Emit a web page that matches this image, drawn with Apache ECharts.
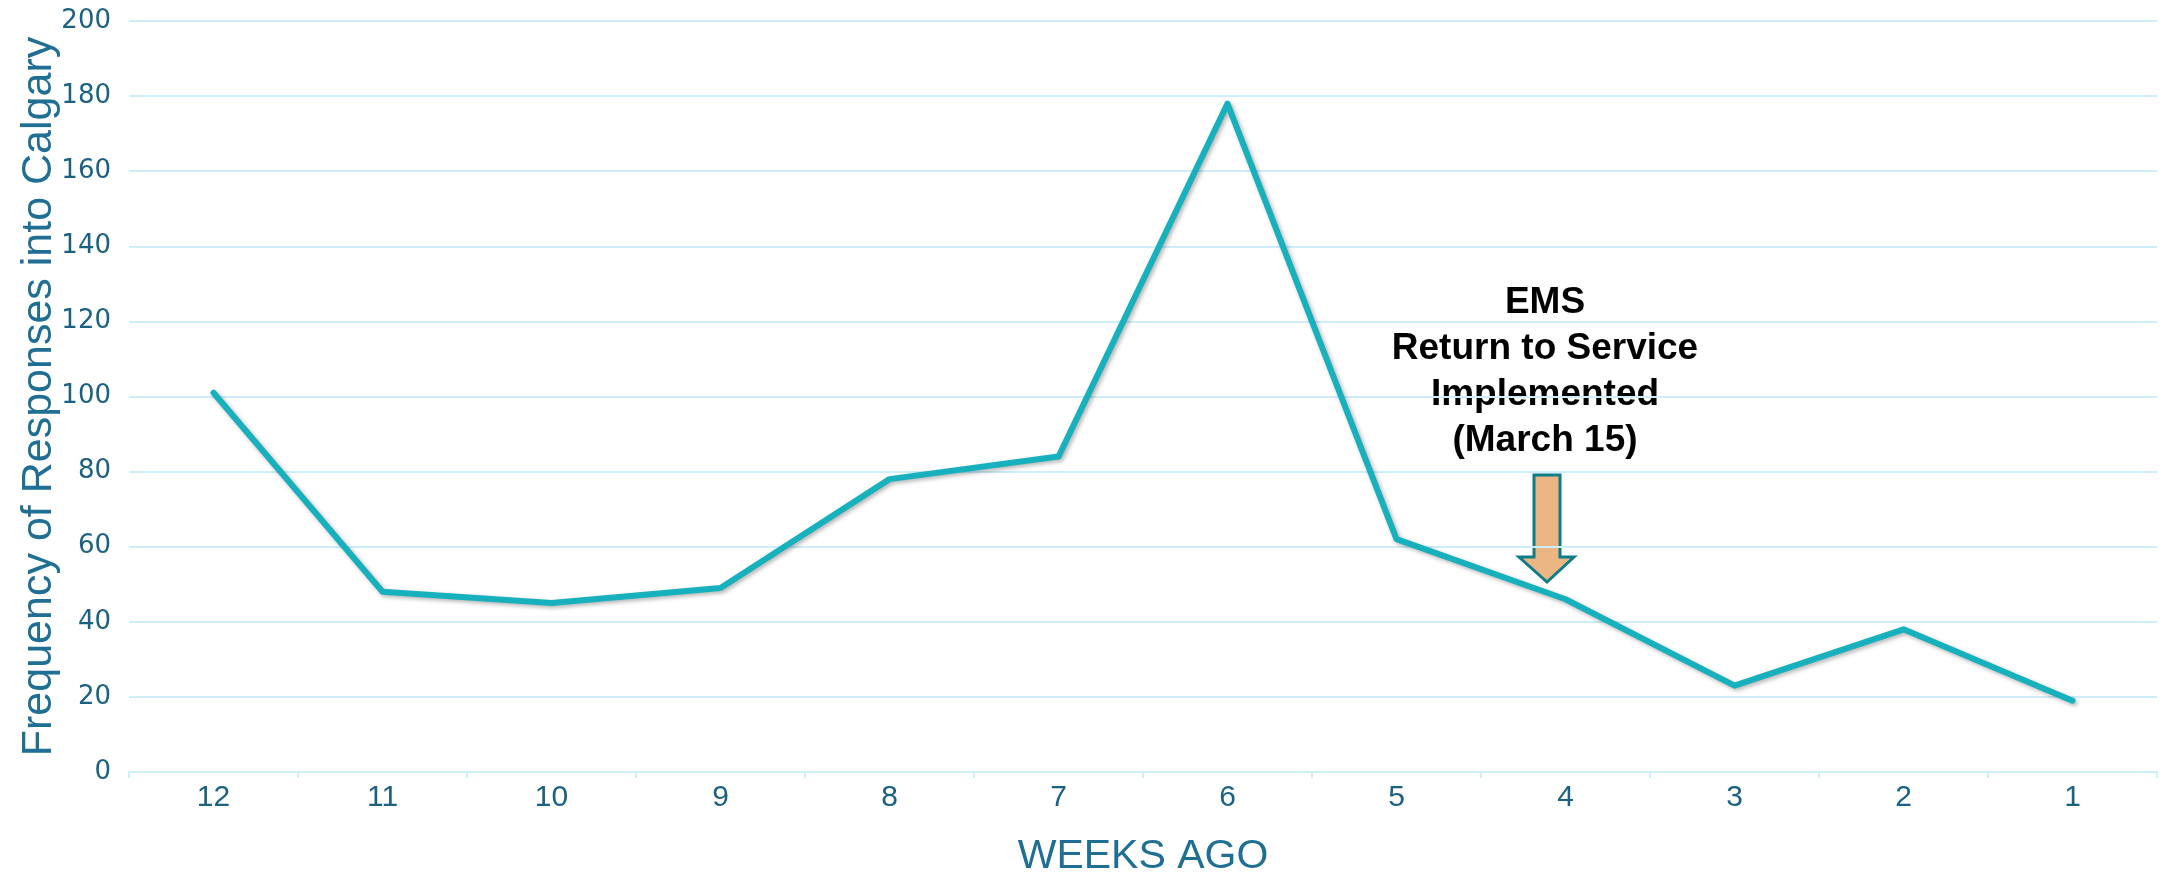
<!DOCTYPE html>
<html>
<head>
<meta charset="utf-8">
<script src="https://cdn.jsdelivr.net/npm/echarts@6/dist/echarts.min.js"></script>
<style>
html, body { margin: 0; padding: 0; background: #fff; }
#main { width: 2168px; height: 882px; }
</style>
</head>
<body>
<div id="main"></div>
<script>
// weeks ago, oldest first
var weeks = ['12', '11', '10', '9', '8', '7', '6', '5', '4', '3', '2', '1'];
var responses = [101, 48, 45, 49, 78, 84, 178, 62, 46, 23, 38, 19];
var noteLines = ['EMS', 'Return to Service', 'Implemented', '(March 15)'];

var labelColor = '#1b6182';
var gridColor = '#cdeefa';

var myChart = echarts.init(document.getElementById('main'));

myChart.setOption({
	animation: false,
	grid: {
		left: 129,
		right: 11,
		top: 21,
		bottom: 110
	},
	xAxis: {
		type: 'category',
		data: weeks,
		boundaryGap: true,
		name: 'WEEKS AGO',
		nameLocation: 'middle',
		nameGap: 64,
		nameMoveOverlap: false,
		nameTextStyle: {
			color: '#1f6e93',
			fontSize: 41,
			fontFamily: 'Liberation Sans'
		},
		axisLine: { lineStyle: { color: gridColor, width: 2 } },
		axisTick: { show: true, length: 6, lineStyle: { color: gridColor, width: 2 } },
		axisLabel: {
			color: labelColor,
			fontSize: 30,
			fontFamily: 'Liberation Sans',
			margin: 11
		}
	},
	yAxis: {
		type: 'value',
		min: 0,
		max: 200,
		interval: 20,
		name: 'Frequency of Responses into Calgary',
		nameLocation: 'middle',
		nameGap: 68,
		nameMoveOverlap: false,
		nameTextStyle: {
			color: '#1f6e93',
			fontSize: 43,
			fontFamily: 'Liberation Sans'
		},
		axisLine: { show: false },
		axisTick: { show: false },
		axisLabel: {
			color: labelColor,
			fontSize: 26,
			fontFamily: 'DejaVu Sans',
			margin: 18
		},
		splitLine: { lineStyle: { color: gridColor, width: 2 } }
	},
	series: [{
		type: 'line',
		data: responses,
		showSymbol: false,
		symbol: 'none',
		lineStyle: {
			color: '#17b1bd',
			width: 6,
			cap: 'round',
			join: 'round',
			shadowColor: 'rgba(0,0,0,0.3)',
			shadowBlur: 4,
			shadowOffsetX: 2,
			shadowOffsetY: 2
		}
	}],
	graphic: [{
		type: 'text',
		style: {
			x: 1545,
			y: 280,
			text: noteLines.join('\n'),
			font: 'bold 37px "Liberation Sans"',
			fill: '#000',
			lineHeight: 46,
			textAlign: 'center',
			textVerticalAlign: 'top'
		}
	}, {
		type: 'polygon',
		shape: {
			points: [[1534, 475], [1560, 475], [1560, 557], [1574, 557], [1547, 582], [1519, 557], [1534, 557]]
		},
		style: {
			fill: '#ebb584',
			stroke: '#0f7d87',
			lineWidth: 3
		}
	}]
});
</script>
</body>
</html>
